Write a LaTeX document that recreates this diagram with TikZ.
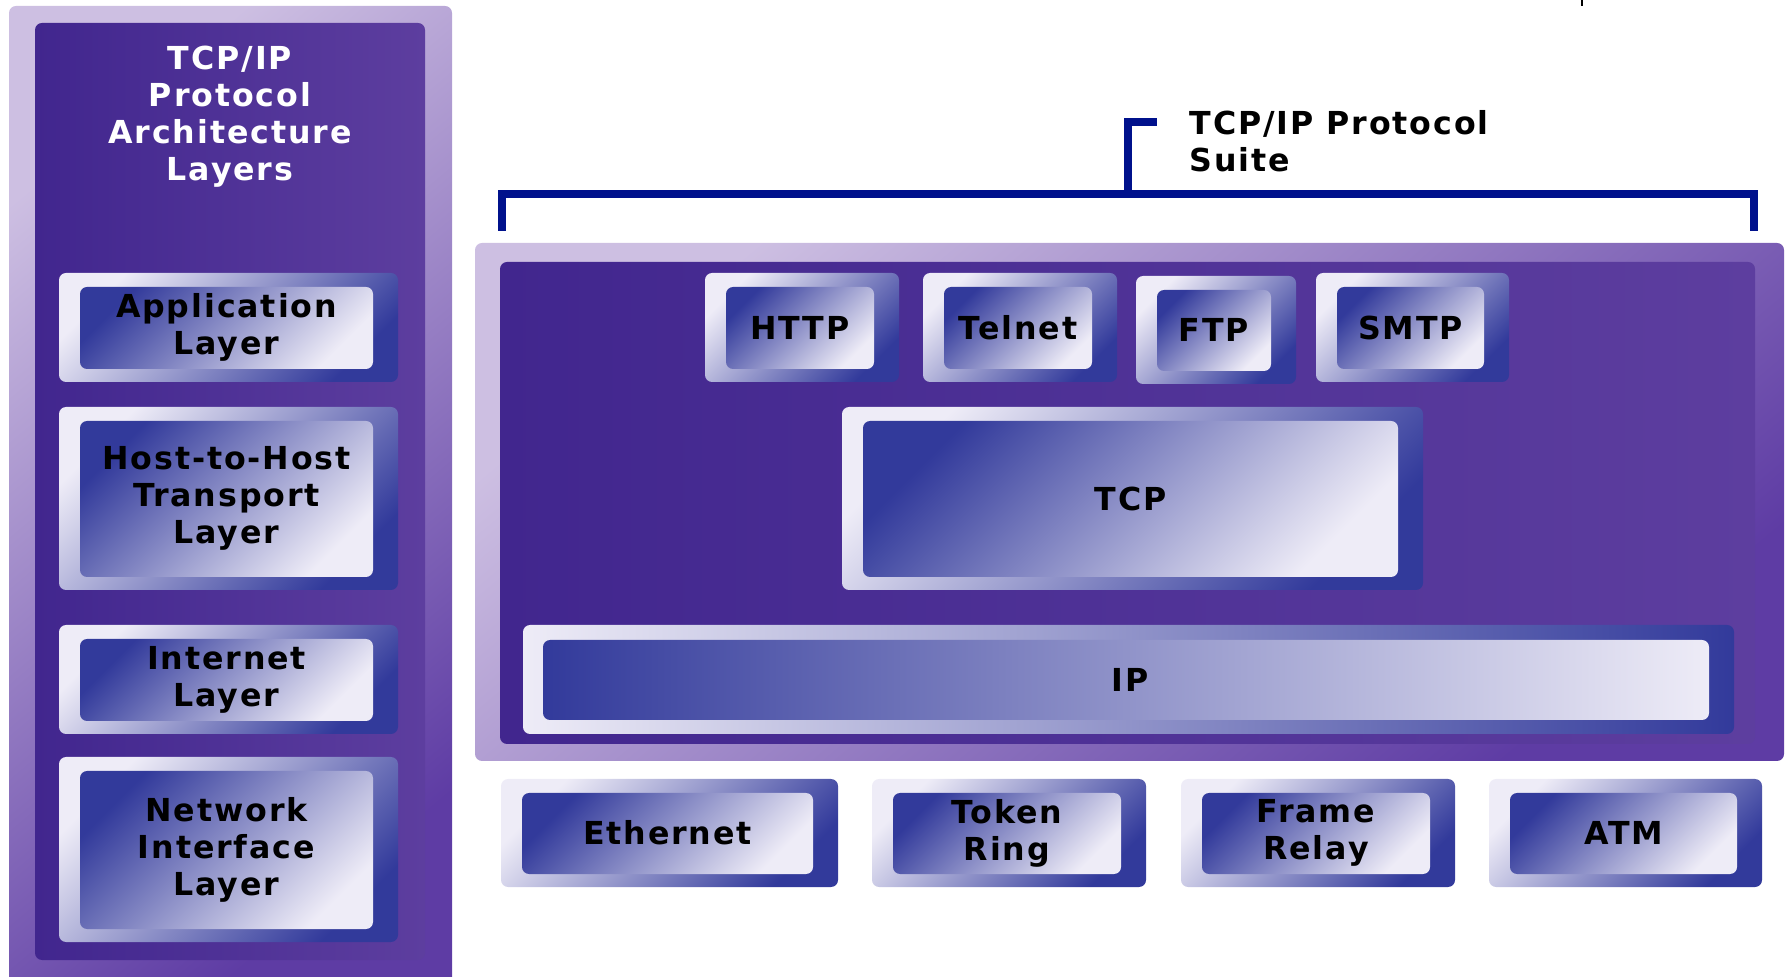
\documentclass[tikz,border=0pt]{standalone}
\usepackage{fontspec}
\setmainfont[LetterSpace=6]{DejaVu Sans}
\definecolor{lilac}{HTML}{CDBFE2}
\definecolor{plum}{HTML}{5E3CA4}
\definecolor{inkdeep}{HTML}{41268E}
\definecolor{inklite}{HTML}{5D3E9F}
\definecolor{boxlite}{HTML}{EEECF7}
\definecolor{boxdeep}{HTML}{323A9B}
\definecolor{navy}{RGB}{0,17,140}
\tikzset{
    panel/.style={rounded corners=2pt,top color=lilac,bottom color=plum,shading angle=40},
    inpanel/.style={rounded corners=2pt,left color=inkdeep,right color=inklite},
    boxout/.style={rounded corners=2pt,top color=boxlite,bottom color=boxdeep,shading angle=45},
    boxin/.style={rounded corners=2pt,top color=boxdeep,bottom color=boxlite,shading angle=45},
    lbl/.style={font=\bfseries\fontsize{9}{10.5}\selectfont,align=center,text=black,inner sep=0pt},
    bracket/.style={draw=navy,line width=2.3pt,miter limit=4}
}
\begin{document}
\begin{tikzpicture}[x=0.01cm,y=-0.01cm]
        \useasboundingbox(0,0)rectangle(1786,977);
        \draw[black,line width=0.4pt](1582,0)--(1582,6);
        \shade[panel](9,6)rectangle(452,990);
        \shade[inpanel](35,23)rectangle(425,960);
        \node[lbl,text=white](arch)at(230,117){TCP/IP\\Protocol\\Architecture\\Layers};
        \shade[panel](475,243)rectangle(1784,761);
        \shade[inpanel](500,262)rectangle(1755,744);
        \foreach \n/\xa/\ya/\xb/\yb/\t in {app/59/273/398/382/{Application\\Layer},host/59/407/398/590/{Host-to-Host\\Transport\\Layer},inet/59/625/398/734/{Internet\\Layer},nic/59/757/398/942/{Network\\Interface\\Layer},http/705/273/899/382/{HTTP},telnet/923/273/1117/382/{Telnet},ftp/1136/276/1296/384/{FTP},smtp/1316/273/1509/382/{SMTP},tcp/842/407/1423/590/{TCP},eth/501/779/838/887/{Ethernet},token/872/779/1146/887/{Token\\Ring},frame/1181/779/1455/887/{Frame\\Relay},atm/1489/779/1762/887/{ATM}}
            {
                \shade[boxout](\xa,\ya)rectangle(\xb,\yb);
                \shade[boxin](\xa+21,\ya+14)rectangle(\xb-25,\yb-13);
                \node[lbl](\n)at({(\xa+\xb)/2-2},{(\ya+\yb)/2}){\t};
            }
        \shade[rounded corners=2pt,left color=boxlite,middle color=boxdeep,right color=boxdeep](523,625)rectangle(1734,734);
        \shade[rounded corners=2pt,left color=boxdeep,right color=boxlite](543,640)rectangle(1709,720);
        \node[lbl](ip)at(1130,680){IP};
        \draw[bracket](502,231)--(502,194)--(1754,194)--(1754,231);
        \draw[bracket](1128,194)--(1128,122)--(1157,122);
        \node[lbl,anchor=west,align=left](suite)at(1189,141){TCP/IP Protocol\\Suite};
\end{tikzpicture}
\end{document}
